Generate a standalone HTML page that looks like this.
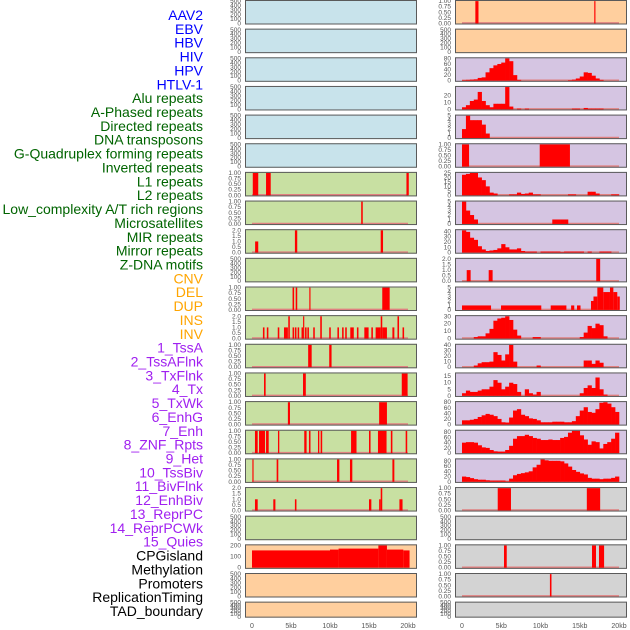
<!DOCTYPE html>
<html><head><meta charset="utf-8"><style>
html,body{margin:0;padding:0;background:#fff;}
svg{display:block;font-family:"Liberation Sans",sans-serif;}
</style></head><body>
<svg id="chart" width="630" height="630" viewBox="0 0 630 630"></svg>
<script>
// ---------- DATA ----------
const trackLabels = ["AAV2","EBV","HBV","HIV","HPV","HTLV-1","Alu repeats","A-Phased repeats","Directed repeats","DNA transposons","G-Quadruplex forming repeats","Inverted repeats","L1 repeats","L2 repeats","Low_complexity A/T rich regions","Microsatellites","MIR repeats","Mirror repeats","Z-DNA motifs","CNV","DEL","DUP","INS","INV","1_TssA","2_TssAFlnk","3_TxFlnk","4_Tx","5_TxWk","6_EnhG","7_Enh","8_ZNF_Rpts","9_Het","10_TssBiv","11_BivFlnk","12_EnhBiv","13_ReprPC","14_ReprPCWk","15_Quies","CPGisland","Methylation","Promoters","ReplicationTiming","TAD_boundary"];
const labelGroups = [6,13,5,15,5];
const groupColors = ["#0000ff","#006400","#ffa500","#a020f0","#000000"];
const xTickValues = [0,5,10,15,20];
const xTickLabels = ["0","5kb","10kb","15kb","20kb"];

const ticksEmpty = ["0","100","200","300","400","500"];
const ticksUnit = ["0.00","0.25","0.50","0.75","1.00"];
const ticksTwo = ["0.0","0.5","1.0","1.5","2.0"];

// left column segments [startKb, endKb, value]
const segL6 = [[0.1,0.8,1],[1.8,2.4,1],[19.8,20.1,1]];
const segL7 = [[14.0,14.2,1]];
const segL8 = [[0.4,0.8,1],[5.5,5.8,2],[16.5,16.8,2]];
const segL10 = [[5.2,5.4,1],[5.6,5.8,1],[7.35,7.5,1],[16.7,17.65,1]];
const segL11 = [[1.4,1.6,1],[1.9,2.1,1],[3.3,3.5,1],[4.1,4.6,1],[4.65,4.85,2],[5.2,5.4,1],[5.5,5.7,1],[5.85,6.05,1],[6.35,6.55,1],[6.55,6.7,2],[6.8,7.0,1],[7.1,7.3,1],[7.85,8.05,1],[8.75,8.95,2],[9.9,10.1,1],[10.95,11.15,1],[11.55,11.75,1],[11.95,12.15,1],[12.6,13.05,1],[13.45,13.65,1],[14.4,14.95,1],[15.3,15.5,1],[15.85,16.5,1],[16.5,16.7,2],[16.7,17.3,1],[18.0,18.25,1],[18.65,18.85,2],[19.3,19.5,1]];
const segL12 = [[7.2,7.65,1],[9.9,10.2,1]];
const segL13 = [[1.54,1.75,1],[6.54,6.9,1],[19.2,19.95,1]];
const segL14 = [[4.6,4.87,1],[16.3,17.3,1]];
const segL15 = [[0.38,0.73,1],[0.9,1.67,1],[1.8,2.14,1],[3.33,3.5,1],[6.7,7.0,1],[7.3,7.5,1],[8.46,8.63,1],[8.8,9.0,1],[12.7,13.4,1],[15.0,15.2,1],[16.15,17.25,1],[17.8,18.0,1],[19.7,19.9,1]];
const segL16 = [[0.05,0.2,1],[3.16,3.37,1],[10.9,11.2,1],[12.56,12.86,1],[18.0,18.25,1]];
const segL17 = [[0.38,0.73,1],[2.73,3.0,1],[5.5,5.7,1],[15.0,15.3,1],[16.3,16.5,1],[16.5,16.7,2],[18.9,19.3,1]];
const segL19 = [[0,10,210],[10,11.1,220],[11.1,16.2,232],[16.2,17.3,270],[17.3,19.4,220],[19.4,20.2,210]];

// right column: segments and 0.5kb bins
const segR0 = [[1.7,2.1,1],[16.85,17.0,1]];
const binsR2 = [2,3,4,5,10,12,30,45,55,60,65,80,70,20,3,0,0,0,0,0,0,0,0,0,0,0,0,2,4,8,15,30,28,18,8,3,0,0,0,0];
const binsR3 = [3,6,12,14,25,12,6,3,8,8,8,32,4,0,1,0,1,0,0,0,0,0,0,0,0,0,0,0,1,1,0,2,1,1,1,1,0,0,0,0];
const binsR4 = [2,5,4,4,4,3,1,0,0,0,0,0,0,0,0,0,0,0,0,0,0,0,0,0,0,0,0,0,0,0,0,0,0,0,0,0,0,0,0,0];
const segR5 = [[0,0.9,1],[9.9,13.75,1]];
const binsR6 = [23,24,25,25,20,17,10,3,2,0,0,0,1,1,3,1.5,2,3,1,1,0,0,0,0,0,0,0,1,1,0,0,0,4,4,2,0,0,0,1,1];
const binsR7 = [5,3,2,1,0,0,0,0,0,0,0,0,0,0,0,0,0,0,0,0,0,0,0,1,1,1,1,0,0,0,0,0,0,0,0,0,0,0,0,0];
const binsR8 = [42,39,28,24,12,6,3,4,5,8,16,10,6,6,8,3,2,2,2,0,2,2,2,2,2,1,2,2,2,2,2,0,2,0,0,2,2,2,0,0];
const segR9 = [[0.6,1.1,1],[3.4,3.9,1],[17.1,17.6,2]];
const segR10 = [[0,3.7,1],[4.97,10.1,1],[11.3,13.3,1],[13.9,14.3,1],[14.65,15.1,1],[16.43,16.75,2],[16.75,17.24,3],[17.24,18,5],[18,18.85,4],[18.85,19.28,5],[19.28,19.78,4],[19.78,20.1,3]];
const binsR11 = [0,0,0,2,3,3,7,13,24,27,28,30,25,12,4,0,0,0,2,2,0,0,0,0,0,0,0,0,0,0,2,8,17,14,20,18,3,0,0,0];
const binsR12 = [0,0,0,3,7,9,9,10,27,22,12,23,40,10,0,0,0,0,0,3,0,0,0,0,0,0,0,0,0,0,0,12,12,6,12,8,0,0,0,0];
const binsR13 = [2,4,3,3,4,5,5,7,12,10,5,7,10,9,3,0,5,2,1,3,0,0,0,0,0,0,0,0,0,0,2,6,8,6,14,5,1,0,0,0];
const binsR14 = [15,15,17,20,27,33,38,35,30,20,8,7,25,50,55,35,30,22,20,15,8,8,8,10,10,10,8,8,12,30,50,62,45,42,55,78,80,75,62,45];
const binsR15 = [40,42,42,40,30,22,20,12,7,6,6,12,28,55,65,65,70,65,58,55,50,50,52,50,50,58,62,78,85,85,68,52,32,45,42,18,35,42,55,78];
const binsR16 = [20,18,14,10,8,8,6,5,5,5,5,2,12,25,30,33,36,40,55,65,85,82,80,80,80,78,70,58,45,38,32,28,15,12,12,10,12,12,15,20];
const segR17 = [[4.55,6.24,1],[15.9,17.6,1]];
const segR19 = [[5.35,5.7,1],[16.56,17.07,1],[17.45,18.1,1]];
const segR20 = [[11.2,11.4,1]];

const T = (a)=>a;
const leftPanels = [
 {bg:"#c8e3eb",ticks:ticksEmpty,dmax:500},
 {bg:"#c8e3eb",ticks:ticksEmpty,dmax:500},
 {bg:"#c8e3eb",ticks:ticksEmpty,dmax:500},
 {bg:"#c8e3eb",ticks:ticksEmpty,dmax:500},
 {bg:"#c8e3eb",ticks:ticksEmpty,dmax:500},
 {bg:"#c8e3eb",ticks:ticksEmpty,dmax:500},
 {bg:"#c8e0a2",ticks:ticksUnit,dmax:1,segs:segL6},
 {bg:"#c8e0a2",ticks:ticksUnit,dmax:1,segs:segL7},
 {bg:"#c8e0a2",ticks:ticksTwo,dmax:2,segs:segL8},
 {bg:"#c8e0a2",ticks:ticksEmpty,dmax:500},
 {bg:"#c8e0a2",ticks:ticksUnit,dmax:1,segs:segL10},
 {bg:"#c8e0a2",ticks:ticksTwo,dmax:2,segs:segL11},
 {bg:"#c8e0a2",ticks:ticksUnit,dmax:1,segs:segL12},
 {bg:"#c8e0a2",ticks:ticksUnit,dmax:1,segs:segL13},
 {bg:"#c8e0a2",ticks:ticksUnit,dmax:1,segs:segL14},
 {bg:"#c8e0a2",ticks:ticksUnit,dmax:1,segs:segL15},
 {bg:"#c8e0a2",ticks:ticksUnit,dmax:1,segs:segL16},
 {bg:"#c8e0a2",ticks:ticksTwo,dmax:2,segs:segL17},
 {bg:"#c8e0a2",ticks:ticksEmpty,dmax:500},
 {bg:"#ffcf9e",ticks:["0","100","200"],dmax:270,segs:segL19,nobase:true},
 {bg:"#ffcf9e",ticks:ticksEmpty,dmax:500},
 {bg:"#ffcf9e",ticks:ticksEmpty,dmax:500}
];
const P="#d5c5e2", G="#d3d3d3", O="#ffcf9e";
const rightPanels = [
 {bg:O,ticks:ticksUnit,dmax:1,segs:segR0},
 {bg:O,ticks:ticksEmpty,dmax:500},
 {bg:P,ticks:["0","20","40","60","80"],dmax:80,bins:binsR2},
 {bg:P,ticks:["0","10","20"],dmax:32,bins:binsR3,tv:[0,10,20]},
 {bg:P,ticks:["0","1","2","3","4","5"],dmax:5,bins:binsR4},
 {bg:P,ticks:ticksUnit,dmax:1,segs:segR5},
 {bg:P,ticks:["0","5","10","15","20","25"],dmax:25,bins:binsR6},
 {bg:P,ticks:["0","1","2","3","4","5"],dmax:5,bins:binsR7},
 {bg:P,ticks:["0","10","20","30","40"],dmax:42,bins:binsR8,tv:[0,10,20,30,40]},
 {bg:P,ticks:ticksTwo,dmax:2,segs:segR9},
 {bg:P,ticks:["0","1","2","3","4","5"],dmax:5,segs:segR10},
 {bg:P,ticks:["0","10","20","30"],dmax:30,bins:binsR11},
 {bg:P,ticks:["0","10","20","30","40"],dmax:40,bins:binsR12},
 {bg:P,ticks:["0","5","10","15"],dmax:17,bins:binsR13,tv:[0,5,10,15]},
 {bg:P,ticks:["0","20","40","60","80"],dmax:80,bins:binsR14},
 {bg:P,ticks:["0","20","40","60","80"],dmax:85,bins:binsR15,tv:[0,20,40,60,80]},
 {bg:P,ticks:["0","20","40","60","80"],dmax:85,bins:binsR16,tv:[0,20,40,60,80]},
 {bg:G,ticks:ticksUnit,dmax:1,segs:segR17},
 {bg:G,ticks:ticksEmpty,dmax:500},
 {bg:G,ticks:ticksUnit,dmax:1,segs:segR19},
 {bg:G,ticks:ticksUnit,dmax:1,segs:segR20},
 {bg:G,ticks:ticksEmpty,dmax:500}
];

// ---------- DRAW ----------
const svg=document.getElementById('chart');
const NS="http://www.w3.org/2000/svg";
function mk(tag,attrs,parent){const e=document.createElementNS(NS,tag);for(const k in attrs)e.setAttribute(k,attrs[k]);(parent||svg).appendChild(e);return e;}

// labels
let idx=0;
labelGroups.forEach((n,g)=>{for(let i=0;i<n;i++){const t=mk('text',{x:203,y:20+idx*13.86,'text-anchor':'end','font-size':'14',fill:groupColors[g]});


t.textContent=trackLabels[idx];idx++;}});

function drawColumn(panels,x0,x1,k0,k20,col){
  const xs=kb=>k0+(k20-k0)*kb/20;
  panels.forEach((p,i)=>{
    const top=i*28.65, h=(i===panels.length-1)?16:24.5, bot=top+h;
    const g=mk('g',{});
    
    
    mk('rect',{x:x0,y:top,width:x1-x0,height:h,fill:p.bg},g);
    const pad=h*0.045;
    const ys=v=>bot-pad-(h-2*pad)*v/p.dmax;
    // ticks
    const n=p.ticks.length;
    p.ticks.forEach((lab,j)=>{
      const v=p.tv?p.tv[j]:p.dmax*j/(n-1);
      const t=mk('text',{x:x0-4,y:ys(v)+2,'text-anchor':'end','font-size':'6.5',fill:'#555'},g);
      
      
      t.textContent=lab;
    });
    if(p.dmax!==500 && !p.nobase){
      const b=mk('line',{x1:xs(0),x2:xs(20),y1:ys(0)-0.5,y2:ys(0)-0.5,stroke:'#e08080','stroke-width':1.5},g);
      
      
    }
    if(p.segs){p.segs.forEach(s=>{
      const r=mk('rect',{x:xs(s[0]),y:ys(s[2]),width:Math.max(1,xs(s[1])-xs(s[0])),height:ys(0)-ys(s[2]),fill:'#ff0000'},g);
      
      
    });}
    if(p.bins){p.bins.forEach((v,j)=>{ if(v<=0)return;
      const r=mk('rect',{x:xs(j*0.5),y:ys(v),width:xs(0.5)-xs(0)+0.3,height:ys(0)-ys(v),fill:'#ff0000'},g);
      
      
    });}
    mk('rect',{x:x0+0.5,y:top+0.5,width:x1-x0-1,height:h-1,fill:'none',stroke:'#5a5a5a','stroke-width':1},g);
  });
  xTickValues.forEach((v,j)=>{
    const t=mk('text',{x:xs(v),y:628,'text-anchor':'middle','font-size':'7',fill:'#555'});
    
    
    t.textContent=xTickLabels[j];
  });
}
drawColumn(leftPanels,245,417,252,408,'left');
drawColumn(rightPanels,455,627,462,619,'right');
</script>
</body></html>
